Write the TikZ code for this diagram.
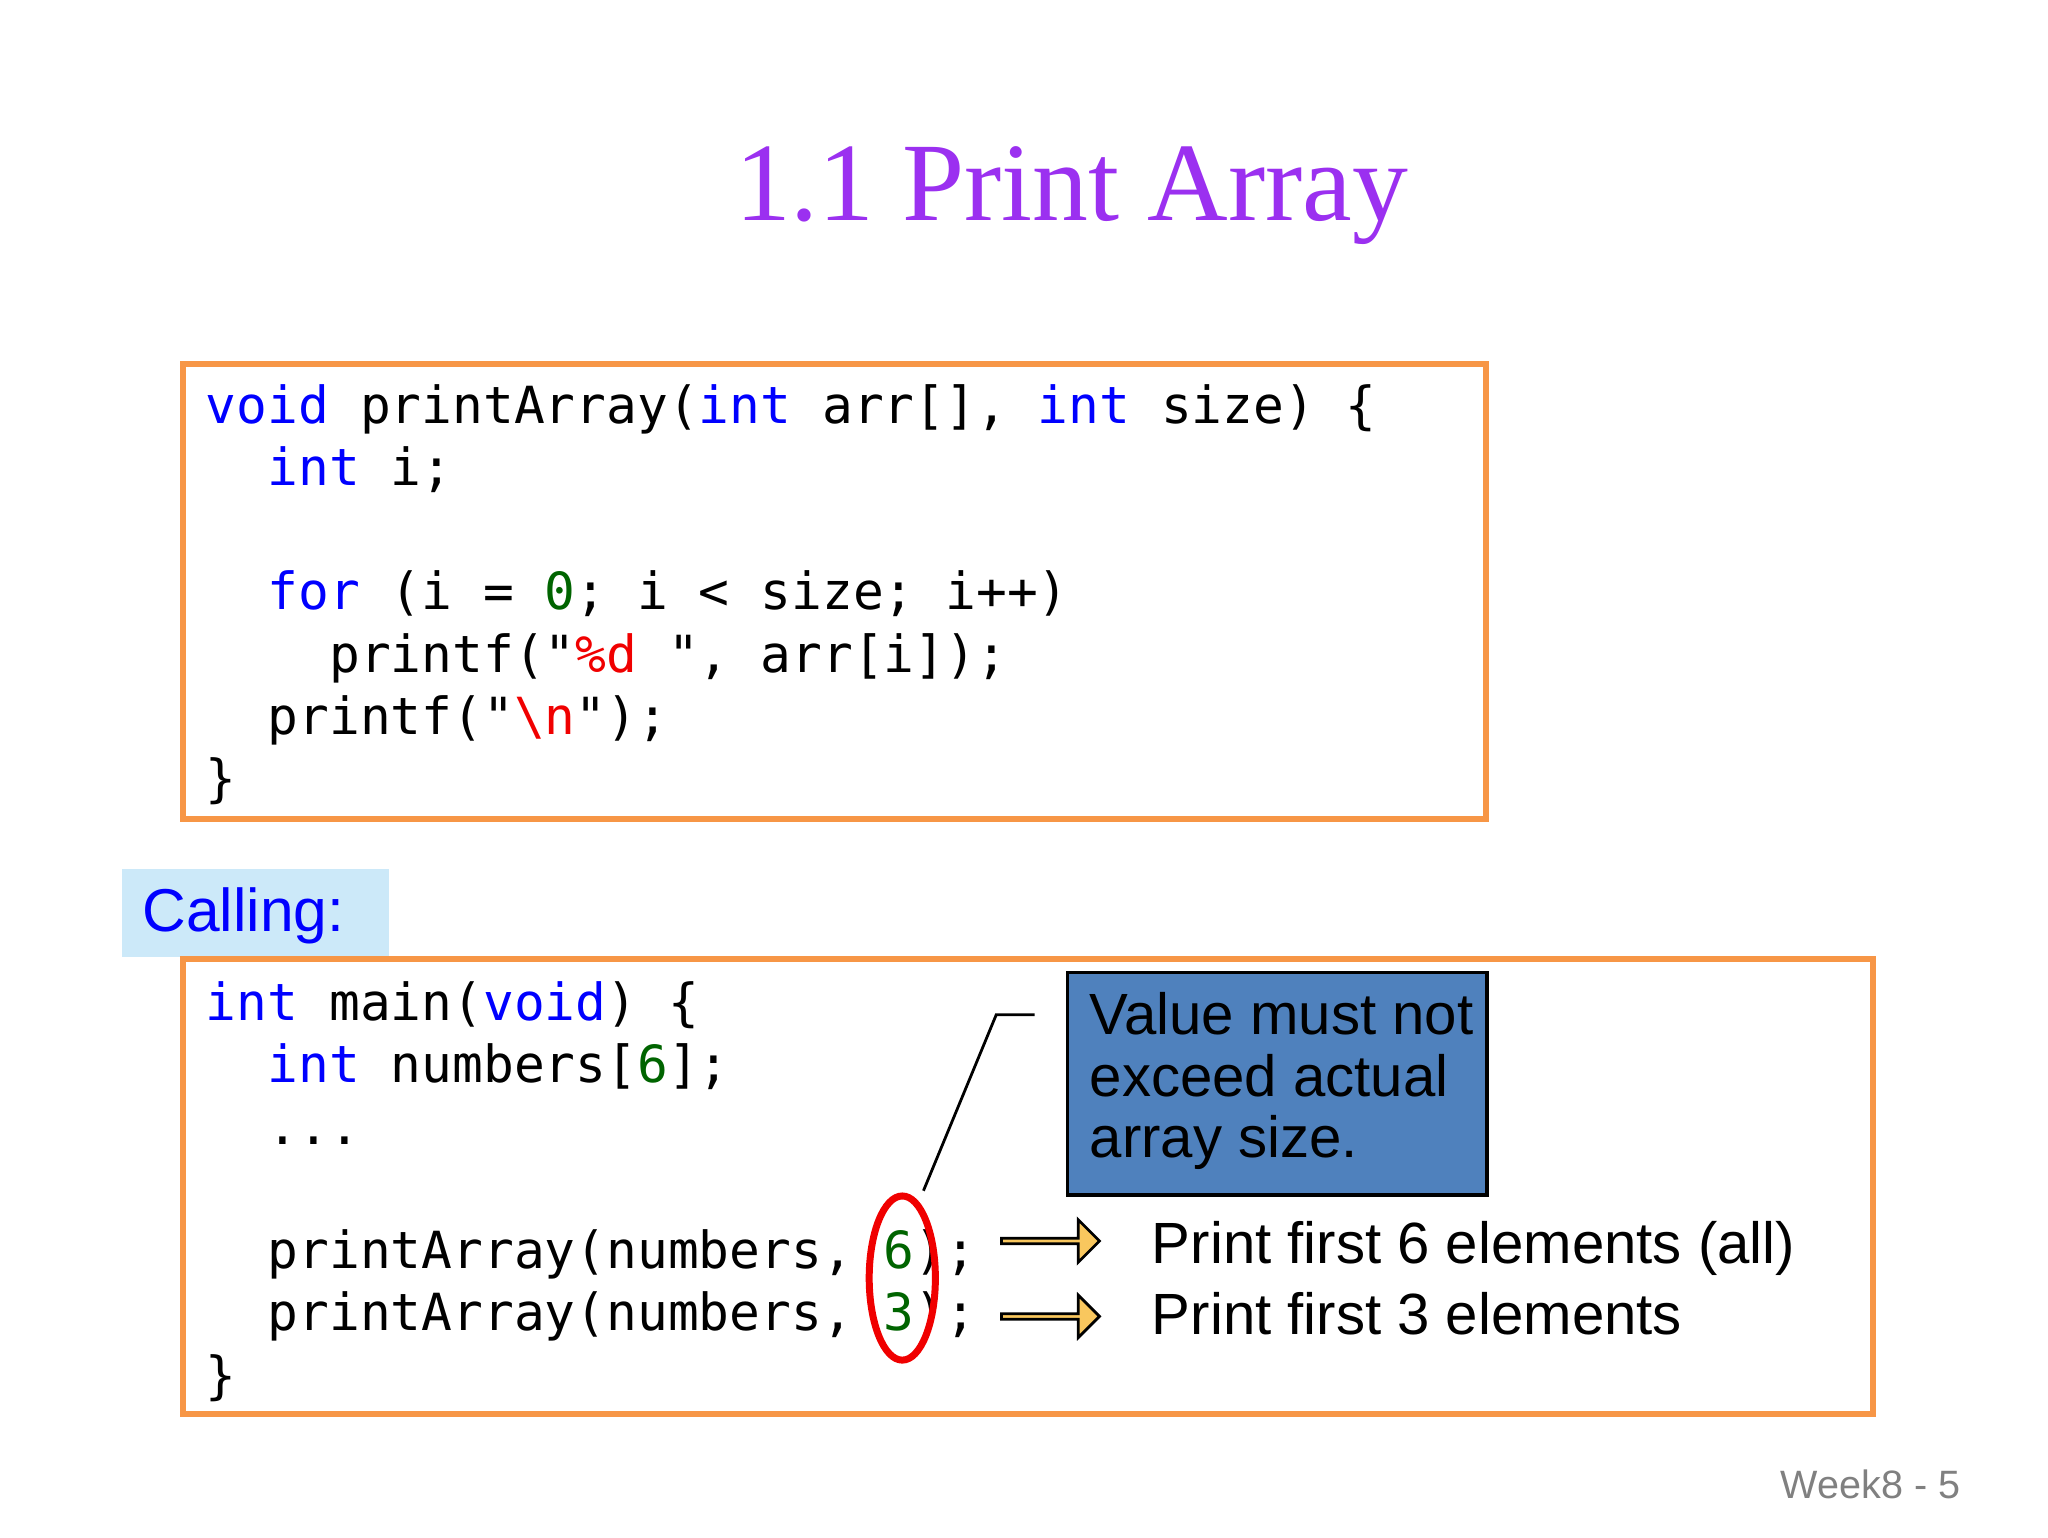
\documentclass[tikz,border=0pt]{standalone}
\usepackage{fontspec}
\setmainfont{Liberation Sans}
\setmonofont{DejaVu Sans Mono}
\newfontfamily\titlefont{Liberation Serif}
\usetikzlibrary{shapes.arrows}
\definecolor{kwblue}{HTML}{0000FF}
\definecolor{numgreen}{HTML}{006400}
\definecolor{strred}{HTML}{F00000}
\definecolor{boxorange}{HTML}{F79646}
\definecolor{titlepurple}{HTML}{9B30F0}
\definecolor{callbg}{HTML}{CCE9F9}
\definecolor{notefill}{HTML}{4F81BD}
\definecolor{arrowfill}{HTML}{F9C75E}
\newcommand{\kw}[1]{\textcolor{kwblue}{#1}}
\newcommand{\nm}[1]{\textcolor{numgreen}{#1}}
\newcommand{\st}[1]{\textcolor{strred}{#1}}
\tikzset{
  codeline/.style={anchor=base west,inner sep=0pt,font=\fontsize{11}{13.4}\ttfamily},
  codebox/.style={draw=boxorange,line width=1.3pt},
  fatarrow/.style={single arrow,draw=black,fill=arrowfill,line width=0.6pt,inner sep=0pt,
    minimum width=0.32cm,minimum height=0.74cm,single arrow head extend=0.07cm},
  saytext/.style={anchor=base west,inner sep=0pt,font=\fontsize{12.5}{15}\selectfont}
}
\begin{document}
\begin{tikzpicture}[x=0.01cm,y=-0.01cm]
  \useasboundingbox (0,0) rectangle (1548,1162);
  \node[font=\titlefont\fontsize{24}{28}\selectfont,text=titlepurple] (title) at (810,148) {1.1 Print Array};
  % function box
  \draw[codebox] (138,275) rectangle (1123,619);
  \node[codeline] (f1) at (155,320) {\kw{void} printArray(\kw{int} arr[], \kw{int} size) \{};
  \node[codeline] (f2) at (155,367) {\ \ \kw{int} i;};
  \node[codeline] (f3) at (155,461) {\ \ \kw{for} (i = \nm{0}; i < size; i++)};
  \node[codeline] (f4) at (155,508) {\ \ \ \ printf("\st{\%d\ }", arr[i]);};
  \node[codeline] (f5) at (155,555) {\ \ printf("\st{\textbackslash n}");};
  \node[codeline] (f6) at (155,602) {\}};
  % calling
  \node[fill=callbg,minimum width=2.02cm,minimum height=0.66cm,inner sep=0pt] (calling) at (193,690) {};
  \node[anchor=west,text=kwblue,font=\fontsize{13}{15}\selectfont,inner sep=0pt] (callingtxt) at (107,692) {Calling:};
  \draw[codebox] (138,725) rectangle (1416,1069);
  \node[codeline] (m1) at (155,771) {\kw{int} main(\kw{void}) \{};
  \node[codeline] (m2) at (155,818) {\ \ \kw{int} numbers[\nm{6}];};
  \node[codeline] (m3) at (155,865) {\ \ ...};
  \node[codeline] (m4) at (155,959) {\ \ printArray(numbers, \nm{6});};
  \node[codeline] (m5) at (155,1006) {\ \ printArray(numbers, \nm{3});};
  \node[codeline] (m6) at (155,1053) {\}};
  % note
  \node[draw=black,fill=notefill,line width=0.8pt,minimum width=3.17cm,minimum height=1.68cm,
    inner sep=0pt] (note) at (965.5,819) {};
  \node[saytext] (n1) at (823,782) {Value must not};
  \node[saytext] (n2) at (823,829) {exceed actual};
  \node[saytext] (n3) at (823,875) {array size.};
  \coordinate (bend) at (753,767);
  \coordinate (tip) at (782,767);
  \coordinate (foot) at (698,900);
  \draw[line width=0.6pt] (foot) -- (bend) -- (tip);
  \draw[strred,line width=1.5pt] (682,966) ellipse [x radius=0.25cm,y radius=0.62cm];
  % results
  \node[fatarrow] (a1) at (793,938) {};
  \node[fatarrow] (a2) at (793,995) {};
  \node[saytext] (r1) at (870,955) {Print first 6 elements (all)};
  \node[saytext] (r2) at (870,1009) {Print first 3 elements};
  \node[text=gray,font=\fontsize{8.5}{10}\selectfont,inner sep=0pt] (page) at (1414,1122) {Week8 - 5};
\end{tikzpicture}
\end{document}
